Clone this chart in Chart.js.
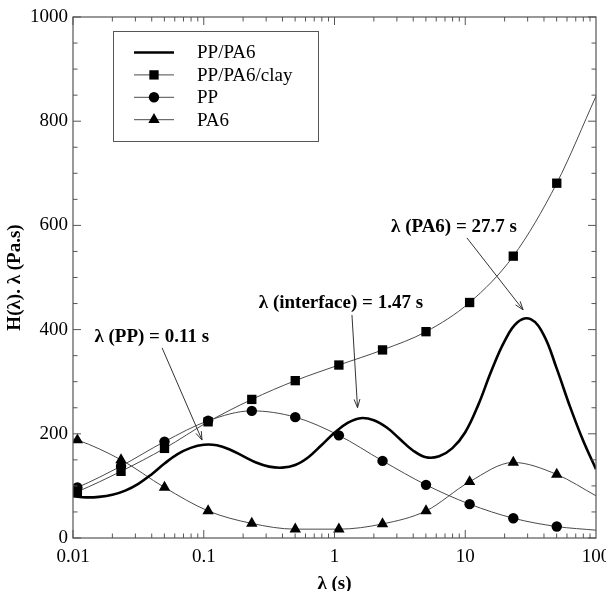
<!DOCTYPE html>
<html lang="en">
<head>
<meta charset="UTF-8" />
<title>Relaxation spectra H(λ)·λ</title>
<script src="https://cdn.jsdelivr.net/npm/chart.js"></script>
<style>
    html, body {
        margin: 0;
        padding: 0;
        background: #fff;
    }
</style>
</head>
<body>
<canvas id="spectrum" width="606" height="591"></canvas>

<script>
    // ---- data ----
    const SERIES_NAMES = ['PP/PA6', 'PP/PA6/clay', 'PP', 'PA6'];

    // PP/PA6 (thick curve, no markers)
    const blendLambda = [0.01, 0.0126, 0.0158, 0.02, 0.0251, 0.0316, 0.0398, 0.0501, 0.0631, 0.0794,
        0.1, 0.126, 0.158, 0.2, 0.251, 0.316, 0.398, 0.501, 0.631, 0.794,
        1, 1.26, 1.58, 2, 2.51, 3.16, 3.98, 5.01, 6.31, 7.94,
        10, 12.6, 15.8, 20, 25.1, 31.6, 39.8, 50.1, 63.1, 79.4, 100];
    const blendH = [80, 78, 79, 83, 91, 104, 122, 143, 161, 173,
        179, 178, 170, 157, 145, 137, 135, 140, 155, 178,
        202, 221, 230, 226, 212, 190, 168, 155, 157, 172,
        203, 256, 320, 378, 414, 420, 390, 325, 253, 188, 132];

    // marker series: curve start (0.01), measured points, curve end (100)
    const markLambda = [0.01, 0.0108, 0.0233, 0.0501, 0.108, 0.233, 0.501, 1.08, 2.33, 5.01, 10.8, 23.3, 50.1, 100];
    const clayH = [86, 89, 128, 172, 223, 266, 302, 332, 361, 396, 452, 541, 681, 848];
    const ppH   = [94, 97, 138, 185, 225, 244, 232, 197, 148, 102, 65, 38, 22, 15];
    const pa6H  = [190, 188, 150, 97, 52, 28, 17, 17, 27, 52, 108, 145, 122, 81];

    const X_TICKS = [0.01, 0.1, 1, 10, 100];
    const Y_TICKS = [0, 200, 400, 600, 800, 1000];

    const NOTES = [
        { text: 'λ (PP) = 0.11 s', at: [0.040, 386], from: [0.048, 365], to: [0.097, 188] },
        { text: 'λ (interface) = 1.47 s', at: [1.12, 451], from: [1.36, 428], to: [1.50, 250] },
        { text: 'λ (PA6) = 27.7 s', at: [8.2, 597], from: [10.3, 576], to: [27.7, 438] }
    ];

    const SERIF = '"Liberation Serif", "Times New Roman", serif';
    const INK = '#555';

    function pts(xs, ys) {
        return xs.map((x, i) => ({ x: x, y: ys[i] }));
    }
    // no marker on the added curve ends
    const markRadius = (r) => markLambda.map((_, i) => (i === 0 || i === markLambda.length - 1) ? 0 : r);

    function drawMarker(ctx, style, x, y, r) {
        ctx.beginPath();
        if (style === 'rect') {
            const s = r * Math.SQRT1_2;
            ctx.rect(x - s, y - s, 2 * s, 2 * s);
        } else if (style === 'triangle') {
            ctx.moveTo(x, y - r);
            ctx.lineTo(x + r * Math.sin(2 * Math.PI / 3), y - r * Math.cos(2 * Math.PI / 3));
            ctx.lineTo(x + r * Math.sin(4 * Math.PI / 3), y - r * Math.cos(4 * Math.PI / 3));
            ctx.closePath();
        } else {
            ctx.arc(x, y, r, 0, Math.PI * 2);
        }
        ctx.fill();
    }

    // frame + inward ticks on all four sides
    const framePlugin = {
        id: 'frame',
        afterDatasetsDraw(chart) {
            const { ctx, chartArea: a, scales: { x, y } } = chart;
            ctx.save();
            ctx.strokeStyle = INK;
            ctx.lineWidth = 1.2;
            ctx.strokeRect(a.left, a.top, a.right - a.left, a.bottom - a.top);
            ctx.lineWidth = 1;
            ctx.beginPath();
            for (let d = 0.01; d < 100; d *= 10) {
                for (let m = 1; m < 10; m++) {
                    const px = x.getPixelForValue(d * m);
                    const len = m === 1 ? 8 : 4.5;
                    ctx.moveTo(px, a.bottom); ctx.lineTo(px, a.bottom - len);
                    ctx.moveTo(px, a.top); ctx.lineTo(px, a.top + len);
                }
            }
            for (let v = 0; v <= 1000; v += 50) {
                const py = y.getPixelForValue(v);
                const len = v % 200 === 0 ? 8 : 4.5;
                ctx.moveTo(a.left, py); ctx.lineTo(a.left + len, py);
                ctx.moveTo(a.right, py); ctx.lineTo(a.right - len, py);
            }
            ctx.stroke();
            ctx.restore();
        }
    };

    const notesPlugin = {
        id: 'notes',
        afterDatasetsDraw(chart) {
            const { ctx, scales: { x, y } } = chart;
            ctx.save();
            ctx.font = 'bold 19px ' + SERIF;
            ctx.fillStyle = '#000';
            ctx.textAlign = 'center';
            ctx.textBaseline = 'middle';
            ctx.strokeStyle = '#333';
            ctx.lineWidth = 1;
            NOTES.forEach(n => {
                ctx.fillText(n.text, x.getPixelForValue(n.at[0]), y.getPixelForValue(n.at[1]));
                const x0 = x.getPixelForValue(n.from[0]), y0 = y.getPixelForValue(n.from[1]);
                const x1 = x.getPixelForValue(n.to[0]), y1 = y.getPixelForValue(n.to[1]);
                const ang = Math.atan2(y1 - y0, x1 - x0);
                ctx.beginPath();
                ctx.moveTo(x0, y0);
                ctx.lineTo(x1, y1);
                ctx.moveTo(x1 - 9 * Math.cos(ang - 0.33), y1 - 9 * Math.sin(ang - 0.33));
                ctx.lineTo(x1, y1);
                ctx.lineTo(x1 - 9 * Math.cos(ang + 0.33), y1 - 9 * Math.sin(ang + 0.33));
                ctx.stroke();
            });
            ctx.restore();
        }
    };

    const legendPlugin = {
        id: 'boxLegend',
        afterDatasetsDraw(chart) {
            const { ctx } = chart;
            const box = { left: 113, top: 31, width: 205, height: 110 };
            ctx.save();
            ctx.fillStyle = '#fff';
            ctx.fillRect(box.left, box.top, box.width, box.height);
            ctx.strokeStyle = INK;
            ctx.lineWidth = 1;
            ctx.strokeRect(box.left + 0.5, box.top + 0.5, box.width, box.height);
            ctx.font = '19px ' + SERIF;
            ctx.textBaseline = 'middle';
            chart.data.datasets.forEach((ds, i) => {
                const yy = box.top + 21.5 + i * 22.4;
                ctx.strokeStyle = ds.borderColor;
                ctx.lineWidth = ds.borderWidth;
                ctx.beginPath();
                ctx.moveTo(134, yy);
                ctx.lineTo(174, yy);
                ctx.stroke();
                if (ds.pointStyle) {
                    ctx.fillStyle = '#000';
                    drawMarker(ctx, ds.pointStyle, 154, yy, ds.legendRadius);
                }
                ctx.fillStyle = '#000';
                ctx.fillText(ds.label, 197, yy + 1);
            });
            ctx.restore();
        }
    };

    const thin = (label, ys, style, r) => ({
        label: label,
        data: pts(markLambda, ys),
        borderColor: '#4a4a4a',
        borderWidth: 1,
        pointStyle: style,
        pointRadius: markRadius(r),
        legendRadius: r,
        pointBackgroundColor: '#000',
        pointBorderColor: '#000',
        pointBorderWidth: 0,
        cubicInterpolationMode: 'monotone'
    });

    new Chart(document.getElementById('spectrum'), {
        type: 'line',
        data: {
            datasets: [
                {
                    label: SERIES_NAMES[0],
                    data: pts(blendLambda, blendH),
                    borderColor: '#000',
                    borderWidth: 2.6,
                    pointStyle: false,
                    pointRadius: 0,
                    tension: 0.4
                },
                thin(SERIES_NAMES[1], clayH, 'rect', 6.6),
                thin(SERIES_NAMES[2], ppH, 'circle', 5.2),
                thin(SERIES_NAMES[3], pa6H, 'triangle', 6.6)
            ]
        },
        options: {
            responsive: false,
            animation: false,
            layout: { padding: { left: 0, right: 10, top: 17, bottom: 0 } },
            plugins: {
                legend: { display: false },
                tooltip: { enabled: false }
            },
            scales: {
                x: {
                    type: 'logarithmic',
                    min: 0.01,
                    max: 100,
                    grid: { display: false, drawTicks: false },
                    border: { display: false },
                    afterBuildTicks: s => { s.ticks = X_TICKS.map(v => ({ value: v })); },
                    afterFit: s => { s.height = 53; s.paddingLeft = 0; s.paddingRight = 0; },
                    ticks: {
                        autoSkip: false,
                        maxRotation: 0,
                        padding: 8,
                        color: '#000',
                        font: { family: SERIF, size: 19 },
                        callback: v => String(v)
                    },
                    title: {
                        display: true,
                        text: 'λ (s)',
                        color: '#000',
                        font: { family: SERIF, size: 19, weight: 'bold' },
                        padding: { top: 0, bottom: -4 }
                    }
                },
                y: {
                    min: 0,
                    max: 1000,
                    grid: { display: false, drawTicks: false },
                    border: { display: false },
                    afterBuildTicks: s => { s.ticks = Y_TICKS.map(v => ({ value: v })); },
                    afterFit: s => { s.width = 73; s.paddingTop = 0; s.paddingBottom = 0; },
                    ticks: {
                        padding: 5,
                        color: '#000',
                        font: { family: SERIF, size: 19 },
                        callback: v => String(v)
                    },
                    title: {
                        display: true,
                        text: 'H(λ). λ (Pa.s)',
                        color: '#000',
                        font: { family: SERIF, size: 19, weight: 'bold' },
                        padding: { top: 4, bottom: 0 }
                    }
                }
            }
        },
        plugins: [framePlugin, notesPlugin, legendPlugin]
    });
</script>
</body>
</html>
